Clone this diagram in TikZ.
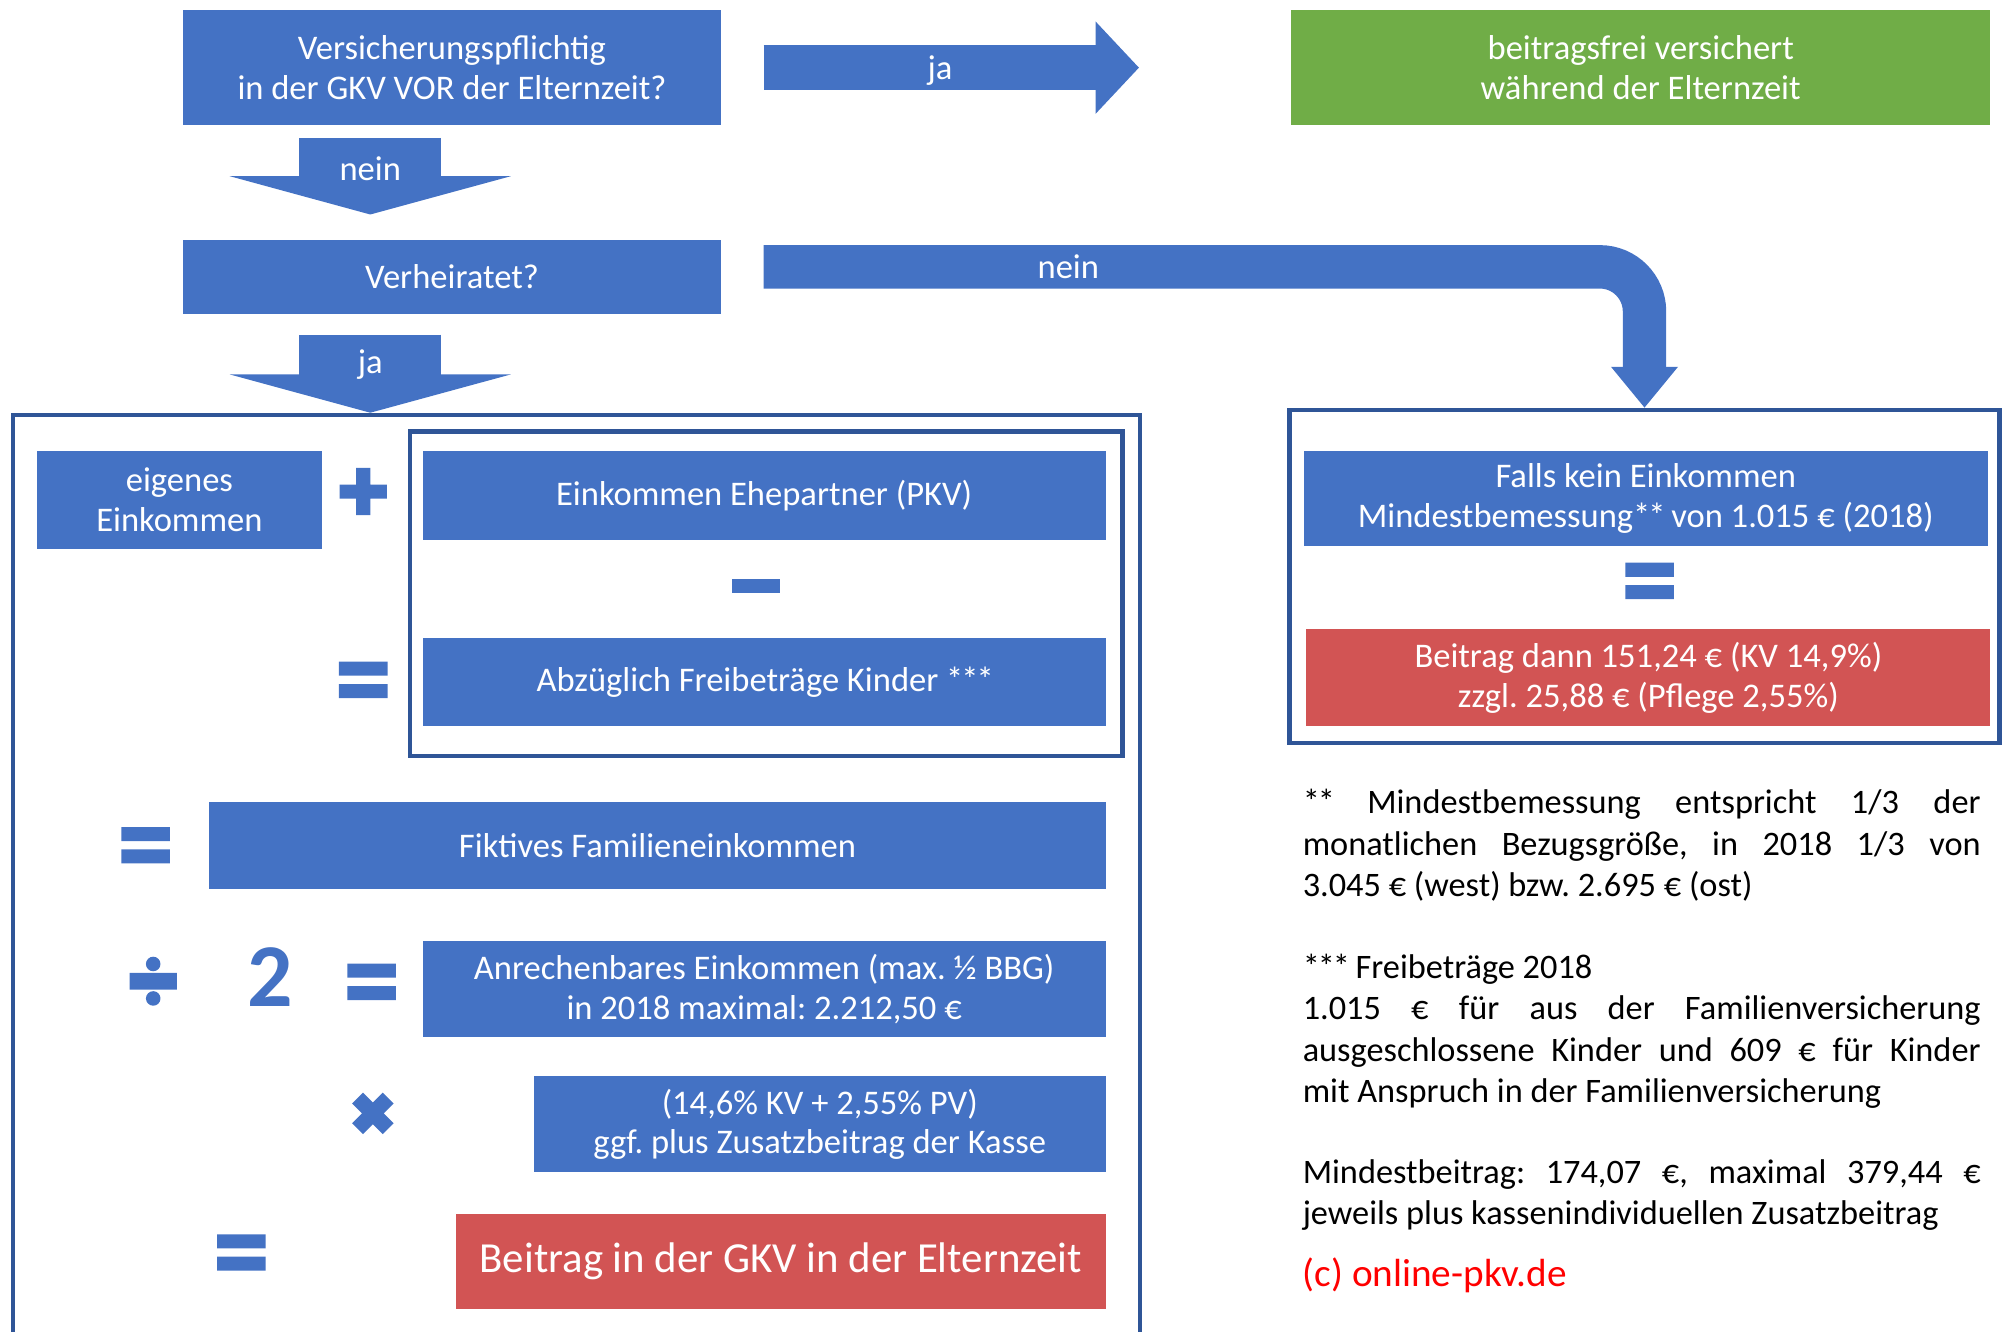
\documentclass[tikz,border=0pt]{standalone}
\usepackage{fontspec}
\setmainfont{Carlito}
\usetikzlibrary{arrows.meta,fit}
\definecolor{boxblue}{HTML}{4472C4}
\definecolor{frameblue}{HTML}{2F5597}
\definecolor{okgreen}{HTML}{70AD47}
\definecolor{payred}{HTML}{D25454}
\definecolor{copyred}{HTML}{FF0000}
\hyphenpenalty=10000
\exhyphenpenalty=10000
\frenchspacing
\newcommand\stars[1]{\foreach \i in {1,...,#1}{*\kern-0.06em}}

\begin{document}
\begin{tikzpicture}[x=0.02cm, y=-0.02cm,
  box/.style={rectangle, fill=boxblue, text=white, align=center, inner sep=0pt, font=\fontsize{15.4}{17.6}\selectfont},
  greenbox/.style={box, fill=okgreen},
  redbox/.style={box, fill=payred},
  frame/.style={draw=frameblue, line width=0.07cm, inner sep=0pt},
  arrowtext/.style={text=white, font=\fontsize{15.4}{17.6}\selectfont},
  downarrow/.style={draw=boxblue, line width=2.22cm, -{Triangle[width=4.4cm, length=0.6cm, line width=1.5pt]}},
  rightarrow/.style={draw=boxblue, line width=0.7cm, -{Triangle[width=1.44cm, length=0.68cm, line width=1.5pt]}},
  bendarrow/.style={draw=boxblue, line width=0.68cm, rounded corners=0.7cm, -{Triangle[width=1.04cm, length=0.64cm, line width=1.5pt]}},
  note/.style={anchor=north west, text width=10.62cm, align=justify, inner sep=0pt, font=\fontsize{15.3}{18.4}\selectfont},
  pics/eqsign/.style={code={\fill[boxblue] (-19,-14.25) rectangle (19,-3.25) (-19,3.25) rectangle (19,14.25);}},
  pics/plussign/.style={code={\fill[boxblue] (-18.5,-5.5) rectangle (18.5,5.5) (-5.5,-18.5) rectangle (5.5,18.5);}},
  pics/minussign/.style={code={\fill[boxblue] (-19,-5.5) rectangle (19,5.5);}},
  pics/divsign/.style={code={\fill[boxblue] (-18.5,-6.5) rectangle (18.5,6.5) (0,-13.5) circle (5.7) (0,13.5) circle (5.7);}},
  pics/timessign/.style={code={\draw[boxblue, line width=0.24cm] (-12,-12) -- (12,12) (-12,12) -- (12,-12);}}]
  \useasboundingbox (0,0) rectangle (1568,1043);

  % questions
  \node[box, minimum width=8.44cm, minimum height=1.8cm] (insured) at (354,53) {Versicherungspflichtig\\in der GKV VOR der Elternzeit?};
  \node[greenbox, minimum width=10.96cm, minimum height=1.8cm] (free) at (1285,53) {beitragsfrei versichert\\während der Elternzeit};
  \node[box, minimum width=8.44cm, minimum height=1.16cm] (married) at (354,217) {Verheiratet?};

  \coordinate (jastart) at (598,53);
  \coordinate (jatip) at (892,53);
  \draw[rightarrow] (jastart) -- node[arrowtext, pos=0.47, yshift=-0.04cm] {ja} (jatip);
  \coordinate (neinstart) at (290,108);
  \coordinate (neintip) at (290,168);
  \draw[downarrow] (neinstart) -- node[arrowtext, pos=0.4] {nein} (neintip);

  % frames
  \node[frame, fit={(10,325) (893,1070)}] (lframe) {};
  \node[frame, fit={(321,338) (879,592)}] (pframe) {};
  \node[frame, fit={(1010,321) (1566,582)}] (rframe) {};

  \coordinate (jastart2) at (290,262);
  \draw[downarrow] (jastart2) -- node[arrowtext, pos=0.38] {ja} (jastart2 |- lframe.north);
  \coordinate (bendstart) at (598,209);
  \draw[bendarrow] (bendstart) -- node[arrowtext, pos=0.346] {nein} (bendstart -| rframe.north) -- (rframe.north);

  % left side: married
  \node[box, minimum width=4.46cm, minimum height=1.54cm] (own) at (140.5,391.5) {eigenes\\Einkommen};
  \node[box, minimum width=10.7cm, minimum height=1.4cm] (partner) at (598.5,388) {Einkommen Ehepartner (PKV)};
  \node[box, minimum width=10.7cm, minimum height=1.38cm] (kids) at (598.5,534.5) {Abzüglich Freibeträge Kinder \stars{3}};
  \node[box, minimum width=14.04cm, minimum height=1.36cm] (family) at (515,662) {Fiktives Familieneinkommen};
  \node[box, minimum width=10.7cm, minimum height=1.5cm] (half) at (598.5,774.5) {Anrechenbares Einkommen (max. ½ BBG)\\in 2018 maximal: 2.212,50 €};
  \node[box, minimum width=8.96cm, minimum height=1.5cm] (rate) at (642,880.5) {(14,6\% KV + 2,55\% PV)\\ggf. plus Zusatzbeitrag der Kasse};
  \node[redbox, minimum width=10.18cm, minimum height=1.48cm, font=\fontsize{19.1}{22}\selectfont] (contribution) at (611.5,988) {Beitrag in der GKV in der Elternzeit};

  \pic at (284.5,385) {plussign};
  \pic at (592,459) {minussign};
  \pic at (284.5,532.5) {eqsign};
  \pic at (114,662) {eqsign};
  \pic at (120,768.5) {divsign};
  \node[text=boxblue, font=\fontsize{40}{40}\selectfont\bfseries, inner sep=0pt] (two) at (212,765) {2};
  \pic at (291,769) {eqsign};
  \pic at (292,872) {timessign};
  \pic at (189,981) {eqsign};

  % right side: not married
  \node[box, minimum width=10.72cm, minimum height=1.5cm] (minbase) at (1289,390.5) {Falls kein Einkommen\\Mindestbemessung\stars{2} von 1.015 € (2018)};
  \pic at (1292,455) {eqsign};
  \node[redbox, minimum width=10.72cm, minimum height=1.52cm] (mincontrib) at (1291,531) {Beitrag dann 151,24 € (KV 14,9\%)\\zzgl. 25,88 € (Pflege 2,55\%)};

  % footnotes
  \node[note] (fnbase) at (1020,618) {\stars{2} Mindestbemessung entspricht 1/3 der\linebreak monatlichen Bezugsgröße, in 2018 1/3 von\linebreak 3.045 € (west) bzw. 2.695 € (ost)};
  \node[note] (fnkids) at (1020,747) {\stars{3} Freibeträge 2018\newline 1.015 € für aus der Familienversicherung\linebreak ausgeschlossene Kinder und 609 € für Kinder\linebreak mit Anspruch in der Familienversicherung};
  \node[note] (fnmin) at (1020,908) {Mindestbeitrag: 174,07 €, maximal 379,44 €\linebreak jeweils plus kassenindividuellen Zusatzbeitrag};
  \node[anchor=west, inner sep=0pt, text=copyred, font=\fontsize{17.5}{20}\selectfont] (copyright) at (1020,999) {(c) online-pkv.de};
\end{tikzpicture}
\end{document}
